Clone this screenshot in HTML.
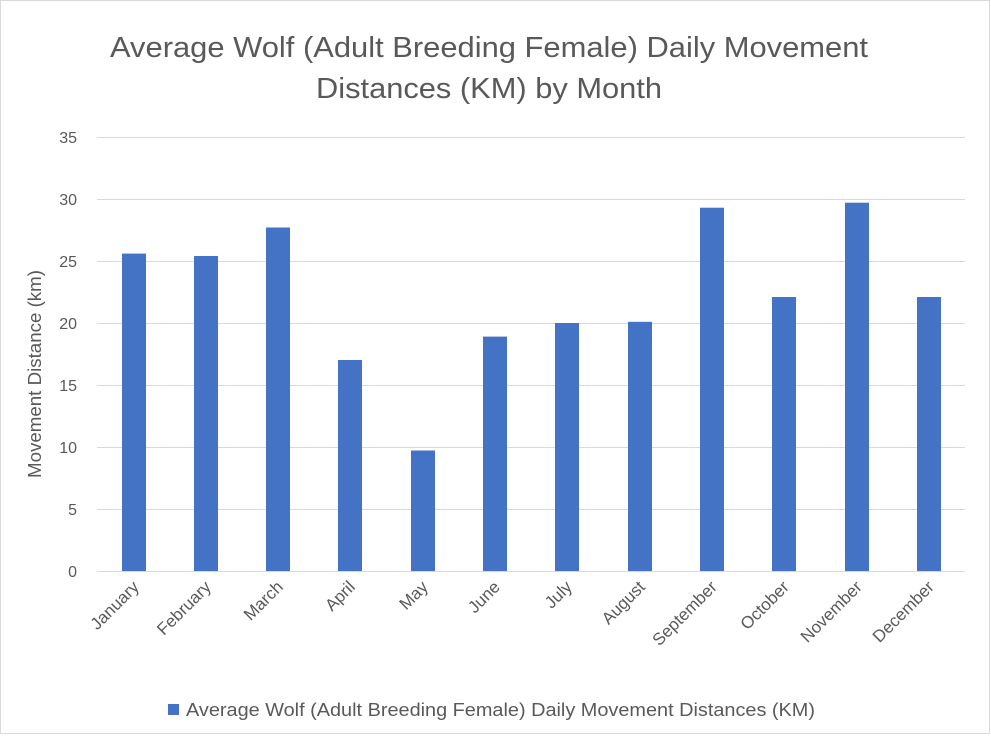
<!DOCTYPE html>
<html><head><meta charset="utf-8"><style>
body{margin:0;background:#fff;}
svg text{font-family:"Liberation Sans",sans-serif;fill:#595959;}
</style></head><body>
<svg width="991" height="734" xmlns="http://www.w3.org/2000/svg">
<rect x="0.5" y="0.5" width="989" height="733" fill="#fff" stroke="#d9d9d9"/>
<text x="110" y="57" font-size="29" textLength="758" lengthAdjust="spacingAndGlyphs">Average Wolf (Adult Breeding Female) Daily Movement</text>
<text x="316" y="98" font-size="29" textLength="346" lengthAdjust="spacingAndGlyphs">Distances (KM) by Month</text>
<g stroke="#d9d9d9" stroke-width="1">
<line x1="97" x2="965" y1="137.5" y2="137.5"/>
<line x1="97" x2="965" y1="199.5" y2="199.5"/>
<line x1="97" x2="965" y1="261.5" y2="261.5"/>
<line x1="97" x2="965" y1="323.5" y2="323.5"/>
<line x1="97" x2="965" y1="385.5" y2="385.5"/>
<line x1="97" x2="965" y1="447.5" y2="447.5"/>
<line x1="97" x2="965" y1="509.5" y2="509.5"/>
<line x1="97" x2="965" y1="571.5" y2="571.5"/>
</g>
<g font-size="16" text-anchor="end">
<text x="77" y="143">35</text><text x="77" y="205">30</text><text x="77" y="267">25</text>
<text x="77" y="329">20</text><text x="77" y="391">15</text><text x="77" y="453">10</text>
<text x="77" y="515">5</text><text x="77" y="577">0</text>
</g>
<text transform="translate(41,478) rotate(-90)" font-size="18" textLength="208" lengthAdjust="spacingAndGlyphs">Movement Distance (km)</text>
<g fill="#4472c4">
<rect x="122" y="253.6" width="24" height="317.4"/>
<rect x="194" y="256" width="24" height="315"/>
<rect x="266" y="227.5" width="24" height="343.5"/>
<rect x="338" y="360" width="24" height="211"/>
<rect x="411" y="450.5" width="24" height="120.5"/>
<rect x="483" y="336.6" width="24" height="234.4"/>
<rect x="555" y="323" width="24" height="248"/>
<rect x="628" y="321.8" width="24" height="249.2"/>
<rect x="700" y="207.7" width="24" height="363.3"/>
<rect x="772" y="297" width="24" height="274"/>
<rect x="845" y="202.7" width="24" height="368.3"/>
<rect x="917" y="297" width="24" height="274"/>
</g>
<g font-size="17" text-anchor="end">
<text transform="translate(140,588) rotate(-45)">January</text>
<text transform="translate(212,588) rotate(-45)">February</text>
<text transform="translate(284,588) rotate(-45)">March</text>
<text transform="translate(356,588) rotate(-45)">April</text>
<text transform="translate(429,588) rotate(-45)">May</text>
<text transform="translate(501,588) rotate(-45)">June</text>
<text transform="translate(573,588) rotate(-45)">July</text>
<text transform="translate(646,588) rotate(-45)">August</text>
<text transform="translate(718,588) rotate(-45)">September</text>
<text transform="translate(790,588) rotate(-45)">October</text>
<text transform="translate(863,588) rotate(-45)">November</text>
<text transform="translate(935,588) rotate(-45)">December</text>
</g>
<rect x="168" y="704" width="11" height="11" fill="#4472c4"/>
<text x="186" y="716" font-size="18" textLength="629" lengthAdjust="spacingAndGlyphs">Average Wolf (Adult Breeding Female) Daily Movement Distances (KM)</text>
</svg>
</body></html>
